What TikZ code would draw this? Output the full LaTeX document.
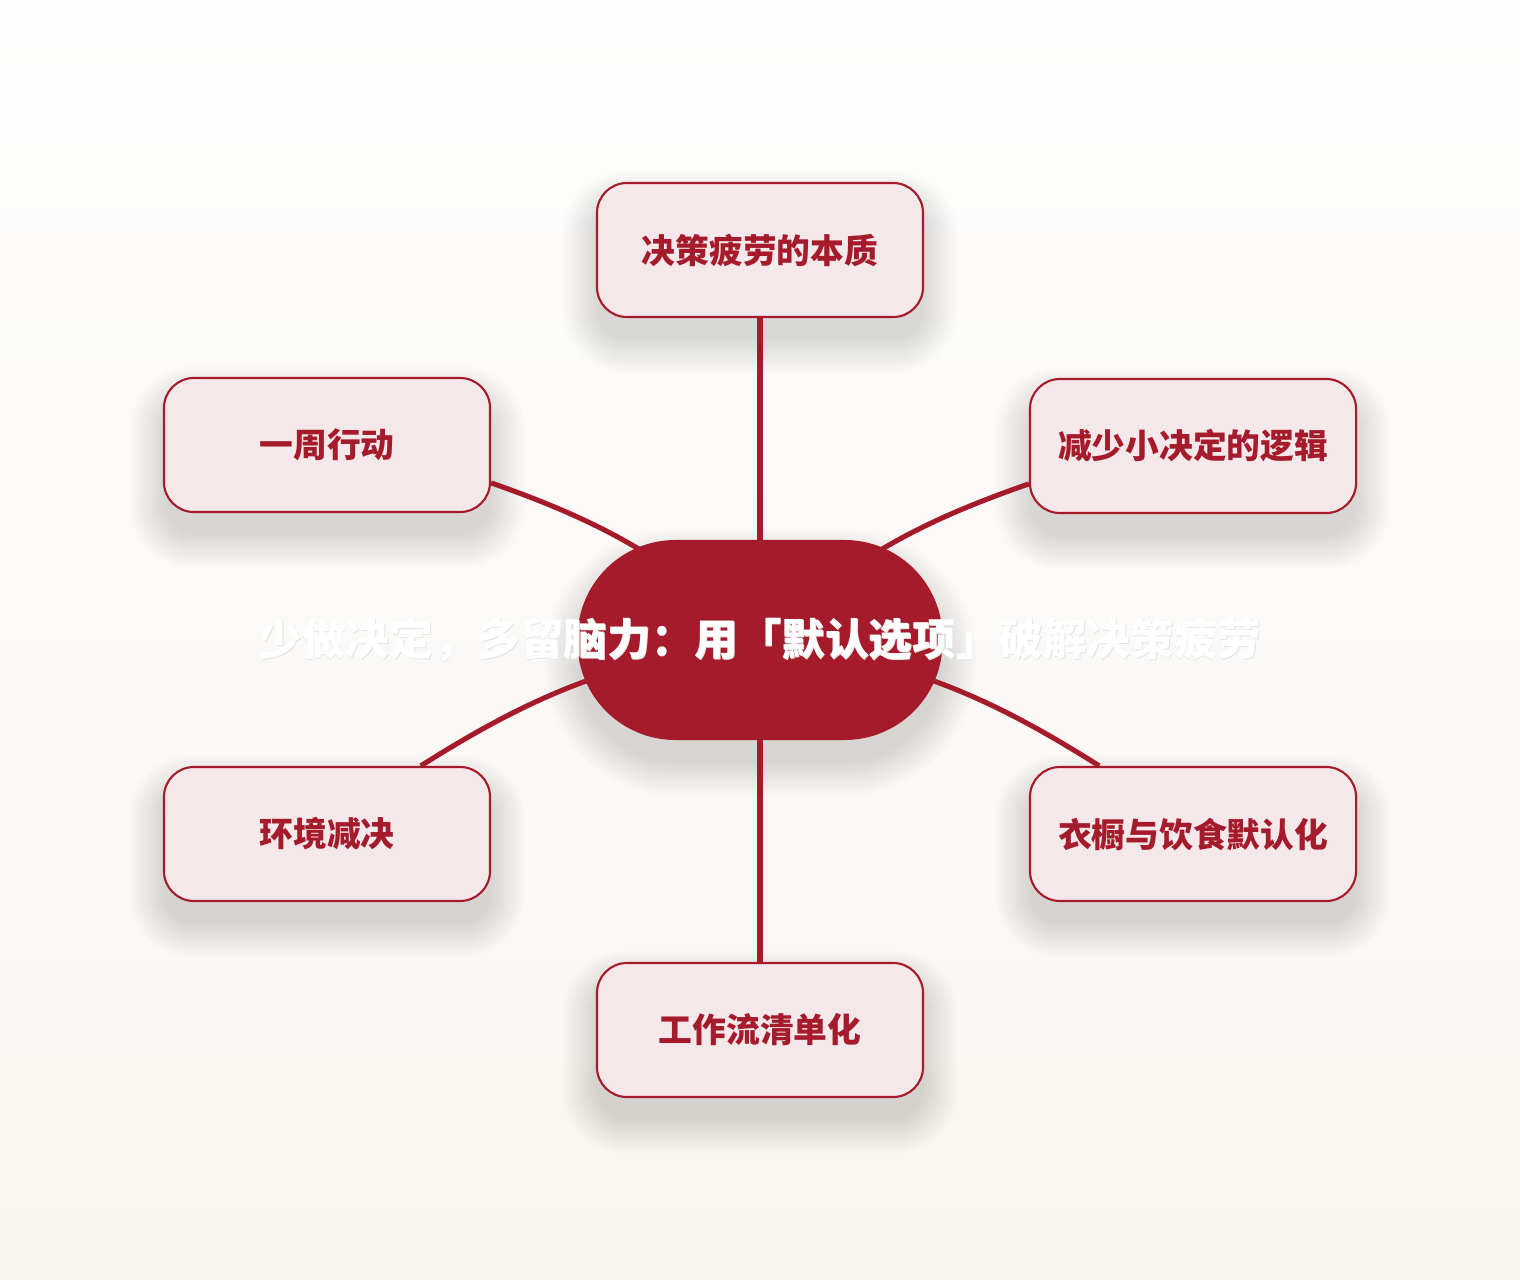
\documentclass[tikz,border=0pt]{standalone}
\usepackage{fontspec}
\newfontfamily\cjk{Noto Sans CJK SC}
\usepackage{tikz}
\usetikzlibrary{calc}
\definecolor{maroon}{HTML}{A51B2B}
\definecolor{blush}{HTML}{F4E8EA}
\definecolor{paper}{HTML}{FEFEFE}
\definecolor{sand}{HTML}{F8F5F0}
\definecolor{haze}{HTML}{E6E4E0}
\pgfdeclarelayer{bg}
\pgfdeclarelayer{shade}
\pgfdeclarelayer{links}
\pgfsetlayers{bg,shade,links,main}
\newcommand{\hubtitle}{少做决定，多留脑力：用「默认选项」破解决策疲劳}

\begin{document}
\begin{tikzpicture}[x=0.025cm, y=0.025cm,
	leaf/.style={draw=maroon, line width=1.5pt, fill=blush, rounded corners=0.75cm,
		minimum width=8.15cm, minimum height=3.35cm, inner sep=0pt, text=maroon,
		font=\cjk\bfseries\fontsize{24}{28}\selectfont},
	hub/.style={fill=maroon, rounded corners=2.45cm, minimum width=9.125cm,
		minimum height=5cm, inner sep=0pt, text=white,
		font=\cjk\bfseries\fontsize{31}{36}\selectfont},
	link/.style={draw=maroon, line width=3.6pt},
	drop/.style={fill=black, opacity=0.01}]
	\useasboundingbox (0,0) rectangle (1520,-1280);
	\begin{pgfonlayer}{bg}
		\fill[top color=paper, bottom color=sand] (0,0) rectangle (1520,-1280);
	\end{pgfonlayer}

	% hub and six leaves
	\node[hub] (c) at (760,-640) {\makebox[0pt]{\textcolor{haze}{\raisebox{-0.8pt}[0pt][0pt]{\hspace{1pt}\hubtitle}}}\makebox[0pt]{\hubtitle}};
	\node[leaf] (top) at (760,-250) {决策疲劳的本质};
	\node[leaf] (lt) at (327,-445) {一周行动};
	\node[leaf] (rt) at (1193,-446) {减少小决定的逻辑};
	\node[leaf] (lb) at (327,-834) {环境减决};
	\node[leaf] (rb) at (1193,-834) {衣橱与饮食默认化};
	\node[leaf] (bot) at (760,-1030) {工作流清单化};

	% soft shadows under the boxes
	\begin{pgfonlayer}{shade}
		\foreach \n in {top,lt,rt,lb,rb,bot}
			\foreach \k in {0,...,11}
				\path[drop, rounded corners=0.75cm+\k*0.075cm]
					($(\n.south west)+(-3*\k,-22-3*\k)$) rectangle ($(\n.north east)+(3*\k,-22+3*\k)$);
		\foreach \k in {0,...,11}
			\path[drop, rounded corners=2.45cm+\k*0.075cm]
				($(c.south west)+(-3*\k,-22-3*\k)$) rectangle ($(c.north east)+(3*\k,-22+3*\k)$);
	\end{pgfonlayer}

	% connectors
	\begin{pgfonlayer}{links}
		\draw[link] (top) -- (c);
		\draw[link] (bot) -- (c);
		\draw[link] (lt.-13.5) to[bend left=11] (c.center);
		\draw[link] (lb.36.4) to[bend left=12] (c.center);
		\draw[link] (rt.193.8) to[bend right=11] (c.center);
		\draw[link] (rb.144.2) to[bend right=12] (c.center);
	\end{pgfonlayer}
\end{tikzpicture}
\end{document}
